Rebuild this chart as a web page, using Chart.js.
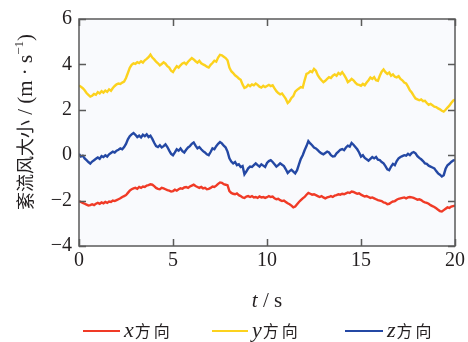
<!DOCTYPE html>
<html>
<head>
<meta charset="utf-8">
<script src="https://cdn.jsdelivr.net/npm/chart.js@4/dist/chart.umd.min.js"></script>
<style>
  html, body { margin: 0; padding: 0; background: #ffffff; }
  #wrap { width: 468px; height: 342px; }
</style>
</head>
<body>
<div id="wrap"><canvas id="c" width="468" height="342"></canvas></div>
<script>
// Turbulent wind speed components, sampled every 0.1 s over 0–20 s
const sampleStep = 0.1;

const windX = [
  -2.02, -2.06, -2.10, -2.14, -2.18, -2.22, -2.20, -2.16, -2.20, -2.14,
  -2.10, -2.14, -2.08, -2.12, -2.06, -2.10, -2.04, -2.06, -2.00, -2.02,
  -1.98, -1.94, -1.90, -1.84, -1.80, -1.76, -1.66, -1.56, -1.50, -1.46,
  -1.44, -1.48, -1.40, -1.44, -1.38, -1.40, -1.34, -1.32, -1.28, -1.30,
  -1.36, -1.44, -1.48, -1.50, -1.44, -1.46, -1.50, -1.54, -1.56, -1.60,
  -1.58, -1.52, -1.56, -1.50, -1.46, -1.48, -1.42, -1.40, -1.44, -1.38,
  -1.34, -1.30, -1.36, -1.40, -1.44, -1.40, -1.46, -1.44, -1.50, -1.48,
  -1.44, -1.38, -1.40, -1.34, -1.26, -1.20, -1.22, -1.28, -1.30, -1.32,
  -1.58, -1.66, -1.70, -1.72, -1.68, -1.76, -1.80, -1.86, -1.88, -1.82,
  -1.80, -1.84, -1.80, -1.86, -1.84, -1.88, -1.82, -1.86, -1.84, -1.88,
  -1.85, -1.80, -1.84, -1.82, -1.90, -1.94, -1.92, -1.98, -2.02, -2.00,
  -2.06, -2.12, -2.16, -2.22, -2.30, -2.26, -2.16, -2.06, -1.98, -1.90,
  -1.84, -1.74, -1.66, -1.70, -1.74, -1.72, -1.76, -1.80, -1.84, -1.80,
  -1.86, -1.90, -1.86, -1.84, -1.80, -1.84, -1.78, -1.76, -1.72, -1.74,
  -1.70, -1.72, -1.68, -1.64, -1.66, -1.60, -1.62, -1.66, -1.70, -1.68,
  -1.74, -1.78, -1.82, -1.80, -1.84, -1.88, -1.86, -1.90, -1.94, -1.98,
  -2.00, -2.02, -2.08, -2.10, -2.16, -2.14, -2.08, -2.04, -2.02, -1.96,
  -1.92, -1.90, -1.88, -1.86, -1.90, -1.86, -1.84, -1.86, -1.88, -1.92,
  -1.96, -1.94, -1.98, -2.04, -2.08, -2.10, -2.14, -2.20, -2.24, -2.28,
  -2.34, -2.40, -2.46, -2.48, -2.42, -2.36, -2.30, -2.32, -2.26, -2.24,
  -2.22
];

const windY = [
  3.07, 3.02, 2.95, 2.86, 2.74, 2.66, 2.58, 2.62, 2.70, 2.66,
  2.78, 2.72, 2.82, 2.76, 2.85, 2.79, 2.90, 2.84, 2.96, 3.05,
  3.12, 3.16, 3.14, 3.20, 3.24, 3.40, 3.62, 3.85, 3.98, 4.05,
  4.02, 4.10, 4.06, 4.14, 4.08, 4.18, 4.24, 4.32, 4.43, 4.30,
  4.22, 4.12, 4.05, 3.96, 4.02, 4.09, 4.03, 3.92, 3.86, 3.72,
  3.66, 3.80, 3.92, 3.86, 3.96, 4.04, 4.08, 4.01, 4.12, 4.20,
  4.28, 4.22, 4.14, 4.08, 4.16, 4.05, 4.00, 3.96, 3.90, 3.86,
  3.98, 4.06, 4.16, 4.12, 4.30, 4.42, 4.40, 4.34, 4.28, 4.18,
  3.86, 3.70, 3.62, 3.52, 3.46, 3.38, 3.32, 3.12, 2.96, 3.00,
  3.10, 3.04, 3.12, 3.08, 3.16, 3.10, 3.02, 2.98, 3.06, 3.00,
  3.05, 3.10, 3.04, 3.08, 2.94, 2.82, 2.74, 2.68, 2.72, 2.60,
  2.48, 2.30, 2.38, 2.52, 2.60, 2.80, 2.88, 2.94, 3.00, 2.98,
  3.30, 3.58, 3.62, 3.70, 3.66, 3.80, 3.72, 3.52, 3.40, 3.30,
  3.22, 3.28, 3.36, 3.44, 3.40, 3.50, 3.56, 3.50, 3.62, 3.56,
  3.66, 3.54, 3.40, 3.22, 3.28, 3.36, 3.30, 3.20, 3.12, 3.10,
  3.06, 3.14, 3.08, 3.20, 3.30, 3.42, 3.36, 3.44, 3.30, 3.28,
  3.50, 3.68, 3.78, 3.66, 3.58, 3.64, 3.50, 3.56, 3.46, 3.43,
  3.48, 3.36, 3.30, 3.20, 3.16, 3.02, 2.86, 2.76, 2.62, 2.50,
  2.46, 2.42, 2.46, 2.38, 2.40, 2.30, 2.22, 2.26, 2.20, 2.14,
  2.12, 2.06, 2.02, 1.96, 1.92, 2.00, 2.10, 2.18, 2.30, 2.40,
  2.46
];

const windZ = [
  0.06, -0.06, -0.02, -0.14, -0.22, -0.30, -0.37, -0.28, -0.22, -0.16,
  -0.10, -0.16, -0.04, -0.08, 0.00, -0.06, 0.04, 0.10, 0.16, 0.12,
  0.20, 0.24, 0.30, 0.26, 0.36, 0.50, 0.70, 0.84, 0.92, 0.98,
  0.90, 0.80, 0.86, 0.78, 0.90, 0.84, 0.92, 0.80, 0.86, 0.72,
  0.55, 0.40, 0.36, 0.44, 0.34, 0.40, 0.48, 0.36, 0.20, 0.06,
  0.00, 0.12, 0.26, 0.20, 0.30, 0.18, 0.12, 0.24, 0.34, 0.40,
  0.50, 0.56, 0.42, 0.30, 0.36, 0.26, 0.18, 0.12, 0.04, 0.00,
  0.14, 0.30, 0.26, 0.40, 0.50, 0.58, 0.52, 0.42, 0.34, 0.16,
  -0.14, -0.28, -0.36, -0.30, -0.44, -0.40, -0.52, -0.48, -0.84, -0.72,
  -0.58, -0.50, -0.52, -0.44, -0.36, -0.44, -0.50, -0.40, -0.46, -0.52,
  -0.34, -0.26, -0.22, -0.30, -0.40, -0.50, -0.44, -0.36, -0.42, -0.48,
  -0.62, -0.78, -0.70, -0.64, -0.72, -0.80, -0.66, -0.40, -0.16, 0.00,
  0.22, 0.40, 0.62, 0.52, 0.44, 0.34, 0.30, 0.22, 0.14, 0.08,
  0.04, 0.10, 0.16, 0.12, 0.00, -0.06, -0.04, 0.08, 0.16, 0.24,
  0.27, 0.22, 0.34, 0.42, 0.38, 0.54, 0.46, 0.36, 0.26, 0.12,
  -0.06, 0.00, -0.12, -0.18, -0.24, -0.16, -0.08, -0.14, -0.08, -0.20,
  -0.22, -0.30, -0.36, -0.48, -0.62, -0.66, -0.50, -0.38, -0.44, -0.26,
  -0.14, -0.08, -0.04, 0.00, -0.02, 0.06, 0.00, 0.10, 0.14, 0.08,
  -0.04, -0.12, -0.18, -0.26, -0.36, -0.38, -0.46, -0.50, -0.54, -0.58,
  -0.70, -0.80, -0.86, -0.94, -0.88, -0.60, -0.44, -0.38, -0.30, -0.24,
  -0.20
];

const seriesNames = ['x', 'y', 'z'];
const seriesSuffix = ['方', '向'];
const xTicks = [0, 5, 10, 15, 20];
const yTicks = [-4, -2, 0, 2, 4, 6];

const COLORS = ['#f03a26', '#fcd21e', '#2448a4'];
const SERIF = '"Liberation Serif", "DejaVu Serif", serif';
const CJK = '"Noto Sans CJK SC", sans-serif';

const toPoints = arr => arr.map((v, i) => ({ x: +(i * sampleStep).toFixed(1), y: v }));

// Frame, inward ticks, axis titles and legend
const decorations = {
  id: 'decorations',
  beforeDraw(chart) {
    const { ctx, chartArea: a } = chart;
    ctx.save();
    ctx.fillStyle = '#f9fafd';
    ctx.fillRect(a.left, a.top, a.right - a.left, a.bottom - a.top);
    ctx.restore();
  },
  afterDraw(chart) {
    const { ctx, chartArea: a, scales } = chart;
    const xs = scales.x, ys = scales.y;
    const tl = 7;
    ctx.save();
    ctx.strokeStyle = '#5a5a5a';
    ctx.lineWidth = 1.5;
    ctx.strokeRect(a.left, a.top, a.right - a.left, a.bottom - a.top);
    ctx.beginPath();
    xTicks.forEach(v => {
      const px = Math.round(xs.getPixelForValue(v)) + 0.5;
      ctx.moveTo(px, a.bottom); ctx.lineTo(px, a.bottom - tl);
      ctx.moveTo(px, a.top); ctx.lineTo(px, a.top + tl);
    });
    yTicks.forEach(v => {
      const py = Math.round(ys.getPixelForValue(v)) + 0.5;
      ctx.moveTo(a.left, py); ctx.lineTo(a.left + tl, py);
      ctx.moveTo(a.right, py); ctx.lineTo(a.right - tl, py);
    });
    ctx.stroke();

    ctx.fillStyle = '#231f20';
    ctx.textBaseline = 'alphabetic';

    // x-axis title: t / s
    const cx = (a.left + a.right) / 2;
    drawRun(ctx, [
      { t: 't', f: 'italic 21px ' + SERIF },
      { t: ' / s', f: '21px ' + SERIF }
    ], cx, 307, true);

    // y-axis title, rotated
    ctx.save();
    ctx.translate(32, 122);
    ctx.rotate(-Math.PI / 2);
    drawRun(ctx, [
      { t: '紊流风大小', f: '18px ' + CJK },
      { t: ' / (m · s', f: '21px ' + SERIF },
      { t: '−1', f: '13px ' + SERIF, dy: -9 },
      { t: ')', f: '21px ' + SERIF }
    ], 0, 0, true);
    ctx.restore();

    // legend
    const legendY = 331;
    const lineStarts = [83, 212, 345];
    const lineLen = [37, 36, 38];
    chart.data.datasets.forEach((ds, i) => {
      const x0 = lineStarts[i];
      ctx.strokeStyle = ds.borderColor;
      ctx.lineWidth = 2.2;
      ctx.beginPath();
      ctx.moveTo(x0, legendY);
      ctx.lineTo(x0 + lineLen[i], legendY);
      ctx.stroke();
      ctx.fillStyle = '#231f20';
      drawRun(ctx, [
        { t: seriesNames[i], f: 'italic 22px ' + SERIF, gap: 1 },
        { t: seriesSuffix[0], f: '16px ' + CJK, gap: 3 },
        { t: seriesSuffix[1], f: '16px ' + CJK }
      ], x0 + lineLen[i] + 4, legendY + 6, false);
    });
    ctx.restore();
  }
};

function drawRun(ctx, parts, x, y, centered) {
  let total = 0;
  parts.forEach(p => {
    ctx.font = p.f;
    p.w = ctx.measureText(p.t).width + (p.gap || 0);
    total += p.w;
  });
  let px = centered ? x - total / 2 : x;
  ctx.textAlign = 'left';
  parts.forEach(p => {
    ctx.font = p.f;
    ctx.fillText(p.t, px, y + (p.dy || 0));
    px += p.w;
  });
}

new Chart(document.getElementById('c'), {
  type: 'line',
  data: {
    datasets: [windX, windY, windZ].map((arr, i) => ({
      label: seriesNames[i] + seriesSuffix.join(''),
      data: toPoints(arr),
      borderColor: COLORS[i],
      borderWidth: 2.4,
      pointRadius: 0,
      tension: 0,
      fill: false
    }))
  },
  options: {
    responsive: false,
    animation: false,
    events: [],
    layout: { padding: { left: 0, right: 10, top: 15, bottom: 0 } },
    plugins: { legend: { display: false }, tooltip: { enabled: false } },
    scales: {
      x: {
        type: 'linear',
        min: 0, max: 20,
        afterBuildTicks: s => { s.ticks = xTicks.map(v => ({ value: v })); },
        afterFit: s => { s.height = 96; },
        grid: { display: false, drawTicks: false },
        border: { display: false },
        ticks: {
          padding: 3,
          color: '#231f20',
          font: { family: SERIF, size: 20 },
          maxRotation: 0,
          autoSkip: false
        }
      },
      y: {
        min: -4, max: 6,
        afterBuildTicks: s => { s.ticks = yTicks.map(v => ({ value: v })); },
        afterFit: s => { s.width = 79; },
        grid: { display: false, drawTicks: false },
        border: { display: false },
        ticks: {
          padding: 7,
          color: '#231f20',
          font: { family: SERIF, size: 20 },
          callback: v => String(v).replace('-', '−')
        }
      }
    }
  },
  plugins: [decorations]
});
</script>
</body>
</html>
